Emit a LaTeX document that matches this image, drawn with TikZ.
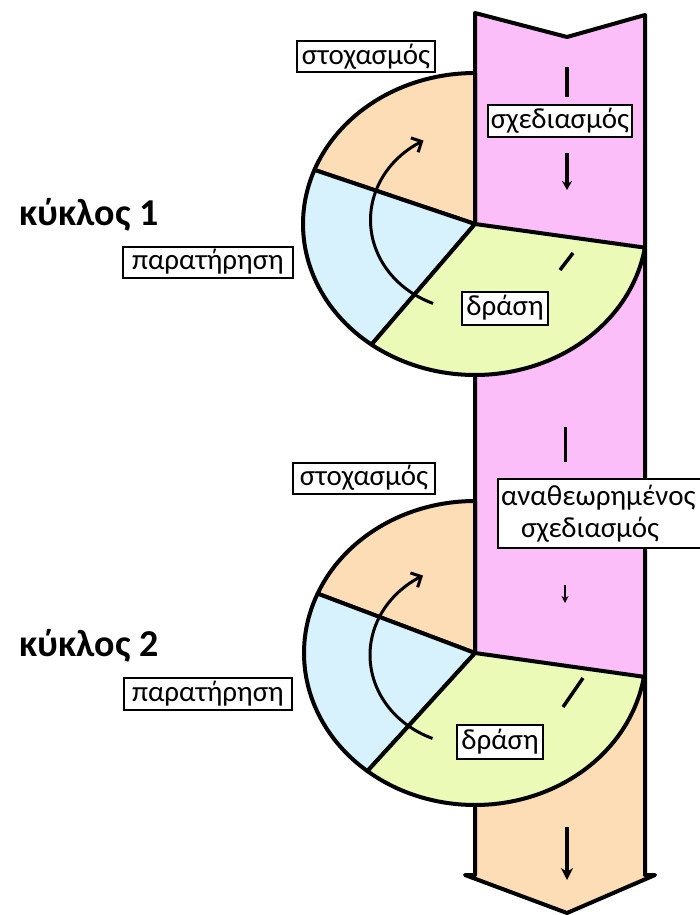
\documentclass[tikz,border=0pt]{standalone}
\usepackage{fontspec}
\setmainfont{Carlito}
\usetikzlibrary{arrows.meta}
\definecolor{pinkC}{HTML}{FCBEF8}
\definecolor{orangeC}{HTML}{FDDDB6}
\definecolor{blueC}{HTML}{D8F2FD}
\definecolor{greenC}{HTML}{EBFAB7}
\begin{document}
\begin{tikzpicture}[x=1pt,y=-1pt,
  outl/.style={draw=black,line width=4pt,line join=round},
  lbl/.style={draw=black,fill=white,line width=2pt,inner xsep=3pt,inner ysep=2pt,font=\fontsize{29}{32}\selectfont},
  cyc/.style={font=\bfseries\fontsize{38}{42}\selectfont},
  circarrow/.style={line width=3pt,-{Straight Barb[length=8pt,width=16pt,line width=3pt]}},
]
\useasboundingbox (0,0) rectangle (700,915);
\clip (0,0) rectangle (700,915);
% band
\fill[pinkC] (475,13) -- (567,37) -- (645,15) -- (645,680) -- (475,655) -- cycle;
\fill[orangeC] (475,653) -- (645,677) -- (645,875) -- (655,875) -- (567,913) -- (465,875) -- (475,875) -- cycle;
\draw[outl] (475,875) -- (465,875) -- (567,913) -- (655,875) -- (645,875) -- (645,15) -- (567,37) -- (475,13) -- cycle;
% disk 1
\coordinate (c1) at (475,224);
\filldraw[outl,fill=orangeC] (c1) -- plot[domain=90:159,samples=40] ({475+172*cos(\x)},{224-151*sin(\x)}) -- cycle;
\filldraw[outl,fill=blueC] (c1) -- plot[domain=159:233,samples=40] ({475+172*cos(\x)},{224-151*sin(\x)}) -- cycle;
\filldraw[outl,fill=greenC] (c1) -- plot[domain=233:351,samples=60] ({475+172*cos(\x)},{224-151*sin(\x)}) -- cycle;
% disk 2
\coordinate (c2) at (475,653);
\filldraw[outl,fill=orangeC] (c2) -- plot[domain=90:157,samples=40] ({475+171*cos(\x)},{653-152*sin(\x)}) -- cycle;
\filldraw[outl,fill=blueC] (c2) -- plot[domain=157:231,samples=40] ({475+171*cos(\x)},{653-152*sin(\x)}) -- cycle;
\filldraw[outl,fill=greenC] (c2) -- plot[domain=231:351,samples=60] ({475+171*cos(\x)},{653-152*sin(\x)}) -- cycle;
% curved arrows
\draw[circarrow] plot[domain=0:130,samples=60] ({470.5+100*cos(248-\x)},{220-90*sin(248-\x)});
\draw[circarrow] plot[domain=0:130,samples=60] ({470+100*cos(248-\x)},{655-90*sin(248-\x)});
% band marks
\draw[line width=4.5pt] (567,67) -- (567,97);
\draw[line width=3.5pt,-{Stealth[length=9pt,width=10pt]}] (567,153) -- (567,190);
\draw[line width=3.5pt] (560,270) -- (573,253);
\draw[line width=3pt] (565,427) -- (565,462);
\draw[line width=2.5pt,-{Stealth[length=7pt,width=7pt]}] (565,585) -- (565,603);
\draw[line width=3.5pt] (563,707) -- (583,678);
\draw[line width=4.5pt,-{Stealth[length=12pt,width=12pt]}] (567,827) -- (567,880);
% labels
\node[lbl,minimum width=138pt,minimum height=31pt] (st1) at (366,57) {στοχασμός};
\node[lbl,minimum width=144pt,minimum height=32pt] (sx1) at (560,121) {σχεδιασμός};
\node[lbl,minimum width=86pt,minimum height=33pt] (dr1) at (505,308) {δράση};
\node[lbl,minimum width=170pt,minimum height=31pt] (pa1) at (208,262) {παρατήρηση};
\node[cyc] (k1) at (89,215) {κύκλος 1};
\node[lbl,minimum width=142pt,minimum height=31pt] (st2) at (364,478) {στοχασμός};
\node[lbl,align=left,text width=220pt,anchor=north west,minimum height=69pt] (sx2) at (497,478) {αναθεωρημένος\\\hspace*{20pt}σχεδιασμός};
\node[lbl,minimum width=86pt,minimum height=34pt] (dr2) at (500,742) {δράση};
\node[lbl,minimum width=168pt,minimum height=32pt] (pa2) at (208,694) {παρατήρηση};
\node[cyc] (k2) at (89,646) {κύκλος 2};
\end{tikzpicture}
\end{document}
